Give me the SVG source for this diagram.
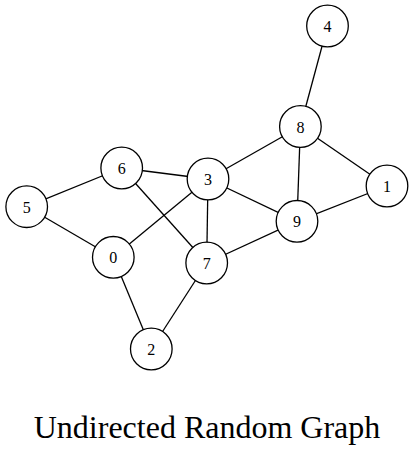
<svg xmlns="http://www.w3.org/2000/svg" width="414" height="455" viewBox="0 0 414 455">
<style>
.edge{stroke:#000;stroke-width:1.3;fill:none}
.node circle{fill:#fff;stroke:#000;stroke-width:1.3}
.node text{font-family:"Liberation Serif","Times New Roman",serif;font-size:16px;text-anchor:middle;fill:#000}
.title{font-family:"Liberation Serif","Times New Roman",serif;font-size:32px;text-anchor:middle;fill:#000}
</style>
<rect width="414" height="455" fill="#fff"/>
<g id="edges">
<line class="edge" x1="327.5" y1="26" x2="300.4" y2="126.5"/>
<line class="edge" x1="300.4" y1="126.5" x2="208" y2="179"/>
<line class="edge" x1="300.4" y1="126.5" x2="297" y2="221.3"/>
<line class="edge" x1="300.4" y1="126.5" x2="387" y2="186"/>
<line class="edge" x1="387" y1="186" x2="297" y2="221.3"/>
<line class="edge" x1="208" y1="179" x2="297" y2="221.3"/>
<line class="edge" x1="208" y1="179" x2="206.7" y2="263"/>
<line class="edge" x1="208" y1="179" x2="121.7" y2="168"/>
<line class="edge" x1="208" y1="179" x2="113.3" y2="257.3"/>
<line class="edge" x1="121.7" y1="168" x2="26.7" y2="206.7"/>
<line class="edge" x1="121.7" y1="168" x2="206.7" y2="263"/>
<line class="edge" x1="26.7" y1="206.7" x2="113.3" y2="257.3"/>
<line class="edge" x1="113.3" y1="257.3" x2="151.3" y2="349"/>
<line class="edge" x1="206.7" y1="263" x2="151.3" y2="349"/>
<line class="edge" x1="206.7" y1="263" x2="297" y2="221.3"/>
</g>
<g id="node0" class="node"><circle cx="113.3" cy="257.3" r="20.8"/><text x="113.3" y="263.3">0</text></g>
<g id="node1" class="node"><circle cx="387" cy="186" r="20.8"/><text x="387" y="192">1</text></g>
<g id="node2" class="node"><circle cx="151.3" cy="349" r="20.8"/><text x="151.3" y="355">2</text></g>
<g id="node3" class="node"><circle cx="208" cy="179" r="20.8"/><text x="208" y="185">3</text></g>
<g id="node4" class="node"><circle cx="327.5" cy="26" r="20.8"/><text x="327.5" y="32">4</text></g>
<g id="node5" class="node"><circle cx="26.7" cy="206.7" r="20.8"/><text x="26.7" y="212.7">5</text></g>
<g id="node6" class="node"><circle cx="121.7" cy="168" r="20.8"/><text x="121.7" y="174">6</text></g>
<g id="node7" class="node"><circle cx="206.7" cy="263" r="20.8"/><text x="206.7" y="269">7</text></g>
<g id="node8" class="node"><circle cx="300.4" cy="126.5" r="20.8"/><text x="300.4" y="132.5">8</text></g>
<g id="node9" class="node"><circle cx="297" cy="221.3" r="20.8"/><text x="297" y="227.3">9</text></g>
<text class="title" x="207" y="438">Undirected Random Graph</text>
</svg>
